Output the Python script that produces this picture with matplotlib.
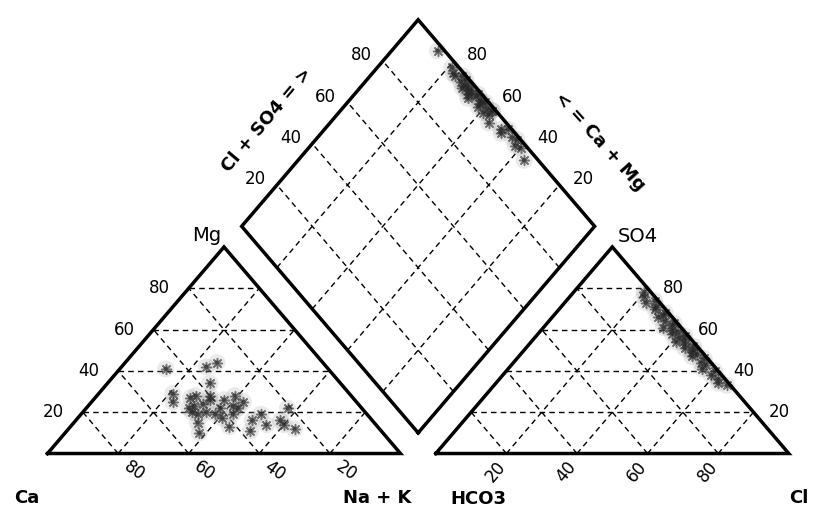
import numpy as np
import matplotlib.pyplot as plt

# cations, % meq (left triangle)
ca = [46, 34, 30, 37, 50, 52, 44, 47, 44, 49, 50, 52, 41, 40, 37, 36, 35, 38,
      42, 42, 34, 37, 30, 31, 26, 26, 24, 21, 49, 40, 43, 33, 46, 45, 48, 32]
mg = [41, 42, 44, 34, 29, 25, 28, 23, 24, 20, 15, 10, 26, 22, 26, 23, 22, 19,
      17, 13, 16, 11, 19, 14, 16, 14, 12, 22, 22, 28, 19, 28, 27, 20, 19, 25]
nak = [13, 24, 26, 29, 21, 23, 28, 30, 32, 31, 35, 38, 33, 38, 37, 41, 43, 43,
       41, 45, 50, 52, 51, 55, 58, 60, 64, 57, 29, 32, 38, 39, 27, 35, 33, 43]

# anions, % meq (right triangle)
so4 = [78, 76, 74, 73, 71, 70, 68, 67, 66, 64, 63, 62, 61, 60, 59, 58, 57, 56,
       55, 54, 53, 52, 51, 50, 49, 48, 47, 46, 44, 43, 41, 40, 38, 36, 34, 33]
hco3 = [2, 3, 1, 4, 2, 3, 1, 2, 4, 3, 1, 2, 5, 3, 2, 4, 1, 3,
        2, 5, 3, 1, 4, 2, 3, 2, 4, 1, 3, 2, 4, 1, 3, 2, 3, 1]
cl = [100 - s - h for s, h in zip(so4, hco3)]

grid_vals = [20, 40, 60, 80]

S3 = np.sqrt(3) / 2
GAP = 0.1
OFF = 1 + GAP


def dashed(ax, p, q):
    ax.plot([p[0], q[0]], [p[1], q[1]], color='black', lw=1.0,
            linestyle=(0, (4, 3)), zorder=1)


def triangle_grid(ax, x0):
    for v in grid_vals:
        f = v / 100
        # horizontal lines
        dashed(ax, (x0 + f / 2, f * S3), (x0 + 1 - f / 2, f * S3))
        # parallel to left edge
        dashed(ax, (x0 + f, 0), (x0 + f + (1 - f) / 2, (1 - f) * S3))
        # parallel to right edge
        dashed(ax, (x0 + 1 - f, 0), (x0 + (1 - f) / 2, (1 - f) * S3))


def diamond_xy(n, h):
    t = 2 + GAP - h - n
    return n + t / 2, t * S3


def draw_points(ax, x, y):
    # fuzzy grey star markers
    ax.scatter(x, y, s=150, marker='o', color='#a0a0a0', alpha=0.22,
               edgecolors='none', zorder=3)
    ax.scatter(x, y, s=50, marker=(8, 2, 0), color='#333333', lw=1.1,
               alpha=0.65, zorder=4)
    ax.scatter(x, y, s=10, marker='o', color='#222222', alpha=0.6,
               edgecolors='none', zorder=4)


fig = plt.figure(figsize=(8.13, 5.07), dpi=100)
ax = fig.add_axes([0, 0, 1, 1])
ax.set_xlim(-0.1346, 2.1686)
ax.set_ylim(-0.2243, 1.9015)
ax.axis('off')

# grids
triangle_grid(ax, 0)
triangle_grid(ax, OFF)
for v in grid_vals:
    f = v / 100
    dashed(ax, diamond_xy(f, 1), diamond_xy(f, 0))
    dashed(ax, diamond_xy(1, f), diamond_xy(0, f))

# outlines
kw = dict(color='black', lw=2.5, solid_joinstyle='miter', zorder=5)
ax.plot([0, 1, 0.5, 0], [0, 0, S3, 0], **kw)
ax.plot([OFF, OFF + 1, OFF + 0.5, OFF], [0, 0, S3, 0], **kw)
dx, dy = zip(diamond_xy(1, 1), diamond_xy(0, 1), diamond_xy(0, 0),
             diamond_xy(1, 0), diamond_xy(1, 1))
ax.plot(dx, dy, **kw)

# tick labels
num = dict(fontsize=12, family='DejaVu Sans', ha='center', va='center')
for v in grid_vals:
    f = v / 100
    ax.text(f / 2 - 0.083, f * S3, str(v), **num)
    ax.text(OFF + 1 - f / 2 + 0.072, f * S3, str(v), **num)
    ax.text(1 - f + 0.045, -0.073, str(v), rotation=-35, **num)
    ax.text(OFF + f - 0.03, -0.075, str(v), rotation=50, **num)
    lx, ly = diamond_xy(0, 1 - f)
    ax.text(lx - 0.062, ly + 0.024, str(v), **num)
    rx, ry = diamond_xy(1 - f, 0)
    ax.text(rx + 0.068, ry + 0.024, str(v), **num)

# axis names
bold = dict(fontsize=13, family='DejaVu Sans', fontweight='bold',
            ha='center', va='center')
ax.text(-0.058, -0.187, 'Ca', **bold)
ax.text(0.933, -0.187, 'Na + K', **bold)
ax.text(1.222, -0.191, 'HCO3', **bold)
ax.text(2.129, -0.187, 'Cl', **bold)
ax.text(0.452, 0.915, 'Mg', fontsize=14, family='DejaVu Sans',
        ha='center', va='center')
ax.text(1.673, 0.908, 'SO4', fontsize=14, family='DejaVu Sans',
        ha='center', va='center')
ax.text(0.622, 1.398, 'Cl + SO4 = >', rotation=50, **bold)
ax.text(1.565, 1.306, '< = Ca + Mg', rotation=-48, **bold)

# samples
ca_a, mg_a, nak_a = np.array(ca), np.array(mg), np.array(nak)
so4_a, hco3_a, cl_a = np.array(so4), np.array(hco3), np.array(cl)

draw_points(ax, (nak_a + mg_a / 2) / 100, mg_a / 100 * S3)
draw_points(ax, OFF + (cl_a + so4_a / 2) / 100, so4_a / 100 * S3)
px, py = diamond_xy(nak_a / 100, hco3_a / 100)
draw_points(ax, px, py)

plt.savefig('out.png', dpi=100)
plt.close()
